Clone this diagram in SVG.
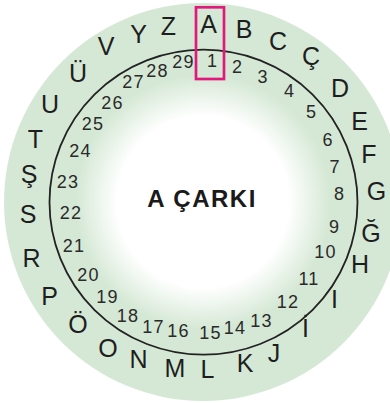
<svg xmlns="http://www.w3.org/2000/svg" width="390" height="403" viewBox="0 0 390 403">
<defs>
<radialGradient id="bg" gradientUnits="userSpaceOnUse" cx="203" cy="202" r="199">
<stop offset="0" stop-color="#ffffff"/>
<stop offset="0.43" stop-color="#ffffff"/>
<stop offset="0.64" stop-color="#d5e8d5"/>
<stop offset="1" stop-color="#d5e8d5"/>
</radialGradient>
<style>
.l{font-family:"Liberation Sans",Arial,sans-serif;font-size:25px;fill:#1e1e1e;text-anchor:middle}
.n{font-family:"Liberation Sans",Arial,sans-serif;font-size:18px;fill:#2a2a2a;text-anchor:middle;letter-spacing:1.2px}
.t{font-family:"Liberation Sans",Arial,sans-serif;font-size:24px;font-weight:bold;fill:#1a1a1a;text-anchor:middle;letter-spacing:1.5px}
</style>
</defs>
<g id="wheel">
<circle cx="203" cy="202" r="199" fill="url(#bg)"/>
<ellipse cx="203.5" cy="202.2" rx="154" ry="152.5" fill="none" stroke="#222" stroke-width="1.8"/>
</g>
<g id="letters">
<text class="l" x="208.5" y="33">A</text>
<text class="l" x="244" y="38">B</text>
<text class="l" x="278" y="50">C</text>
<text class="l" x="311" y="65">Ç</text>
<text class="l" x="340" y="97">D</text>
<text class="l" x="359.5" y="130">E</text>
<text class="l" x="369" y="163">F</text>
<text class="l" x="376.5" y="200">G</text>
<text class="l" x="371" y="242">Ğ</text>
<text class="l" x="360" y="273">H</text>
<text class="l" x="334.5" y="308">I</text>
<text class="l" x="305.5" y="337">İ</text>
<text class="l" x="274" y="362">J</text>
<text class="l" x="245" y="372">K</text>
<text class="l" x="207.5" y="378">L</text>
<text class="l" x="175" y="377">M</text>
<text class="l" x="138.5" y="368">N</text>
<text class="l" x="108" y="357">O</text>
<text class="l" x="78" y="333">Ö</text>
<text class="l" x="49.5" y="305">P</text>
<text class="l" x="31.5" y="267">R</text>
<text class="l" x="28" y="223">S</text>
<text class="l" x="29" y="183">Ş</text>
<text class="l" x="35.5" y="148">T</text>
<text class="l" x="50" y="113">U</text>
<text class="l" x="78" y="82">Ü</text>
<text class="l" x="106" y="55">V</text>
<text class="l" x="138.5" y="43">Y</text>
<text class="l" x="168.5" y="35">Z</text>
</g>
<g id="numbers">
<text class="n" x="212.5" y="67">1</text>
<text class="n" x="237.5" y="73">2</text>
<text class="n" x="263" y="83">3</text>
<text class="n" x="289.5" y="97">4</text>
<text class="n" x="311.5" y="118">5</text>
<text class="n" x="328" y="146">6</text>
<text class="n" x="335" y="173">7</text>
<text class="n" x="339.5" y="200">8</text>
<text class="n" x="334.5" y="233">9</text>
<text class="n" x="325.5" y="258">10</text>
<text class="n" x="309" y="285">11</text>
<text class="n" x="288" y="308">12</text>
<text class="n" x="261.5" y="327">13</text>
<text class="n" x="235" y="334">14</text>
<text class="n" x="210.5" y="339">15</text>
<text class="n" x="178.5" y="337">16</text>
<text class="n" x="153.5" y="333">17</text>
<text class="n" x="128" y="322">18</text>
<text class="n" x="107.5" y="303">19</text>
<text class="n" x="88.5" y="281">20</text>
<text class="n" x="74" y="252">21</text>
<text class="n" x="71" y="219">22</text>
<text class="n" x="68" y="188">23</text>
<text class="n" x="80.5" y="157">24</text>
<text class="n" x="93" y="130">25</text>
<text class="n" x="112.5" y="109">26</text>
<text class="n" x="133.5" y="88">27</text>
<text class="n" x="157.5" y="77">28</text>
<text class="n" x="183.5" y="68">29</text>
</g>
<g id="highlight">
<rect x="196" y="7.3" width="28" height="71.7" fill="none" stroke="#e2197d" stroke-width="2.7"/>
</g>
<g id="title">
<text class="t" x="202" y="206.5">A ÇARKI</text>
</g>
</svg>
